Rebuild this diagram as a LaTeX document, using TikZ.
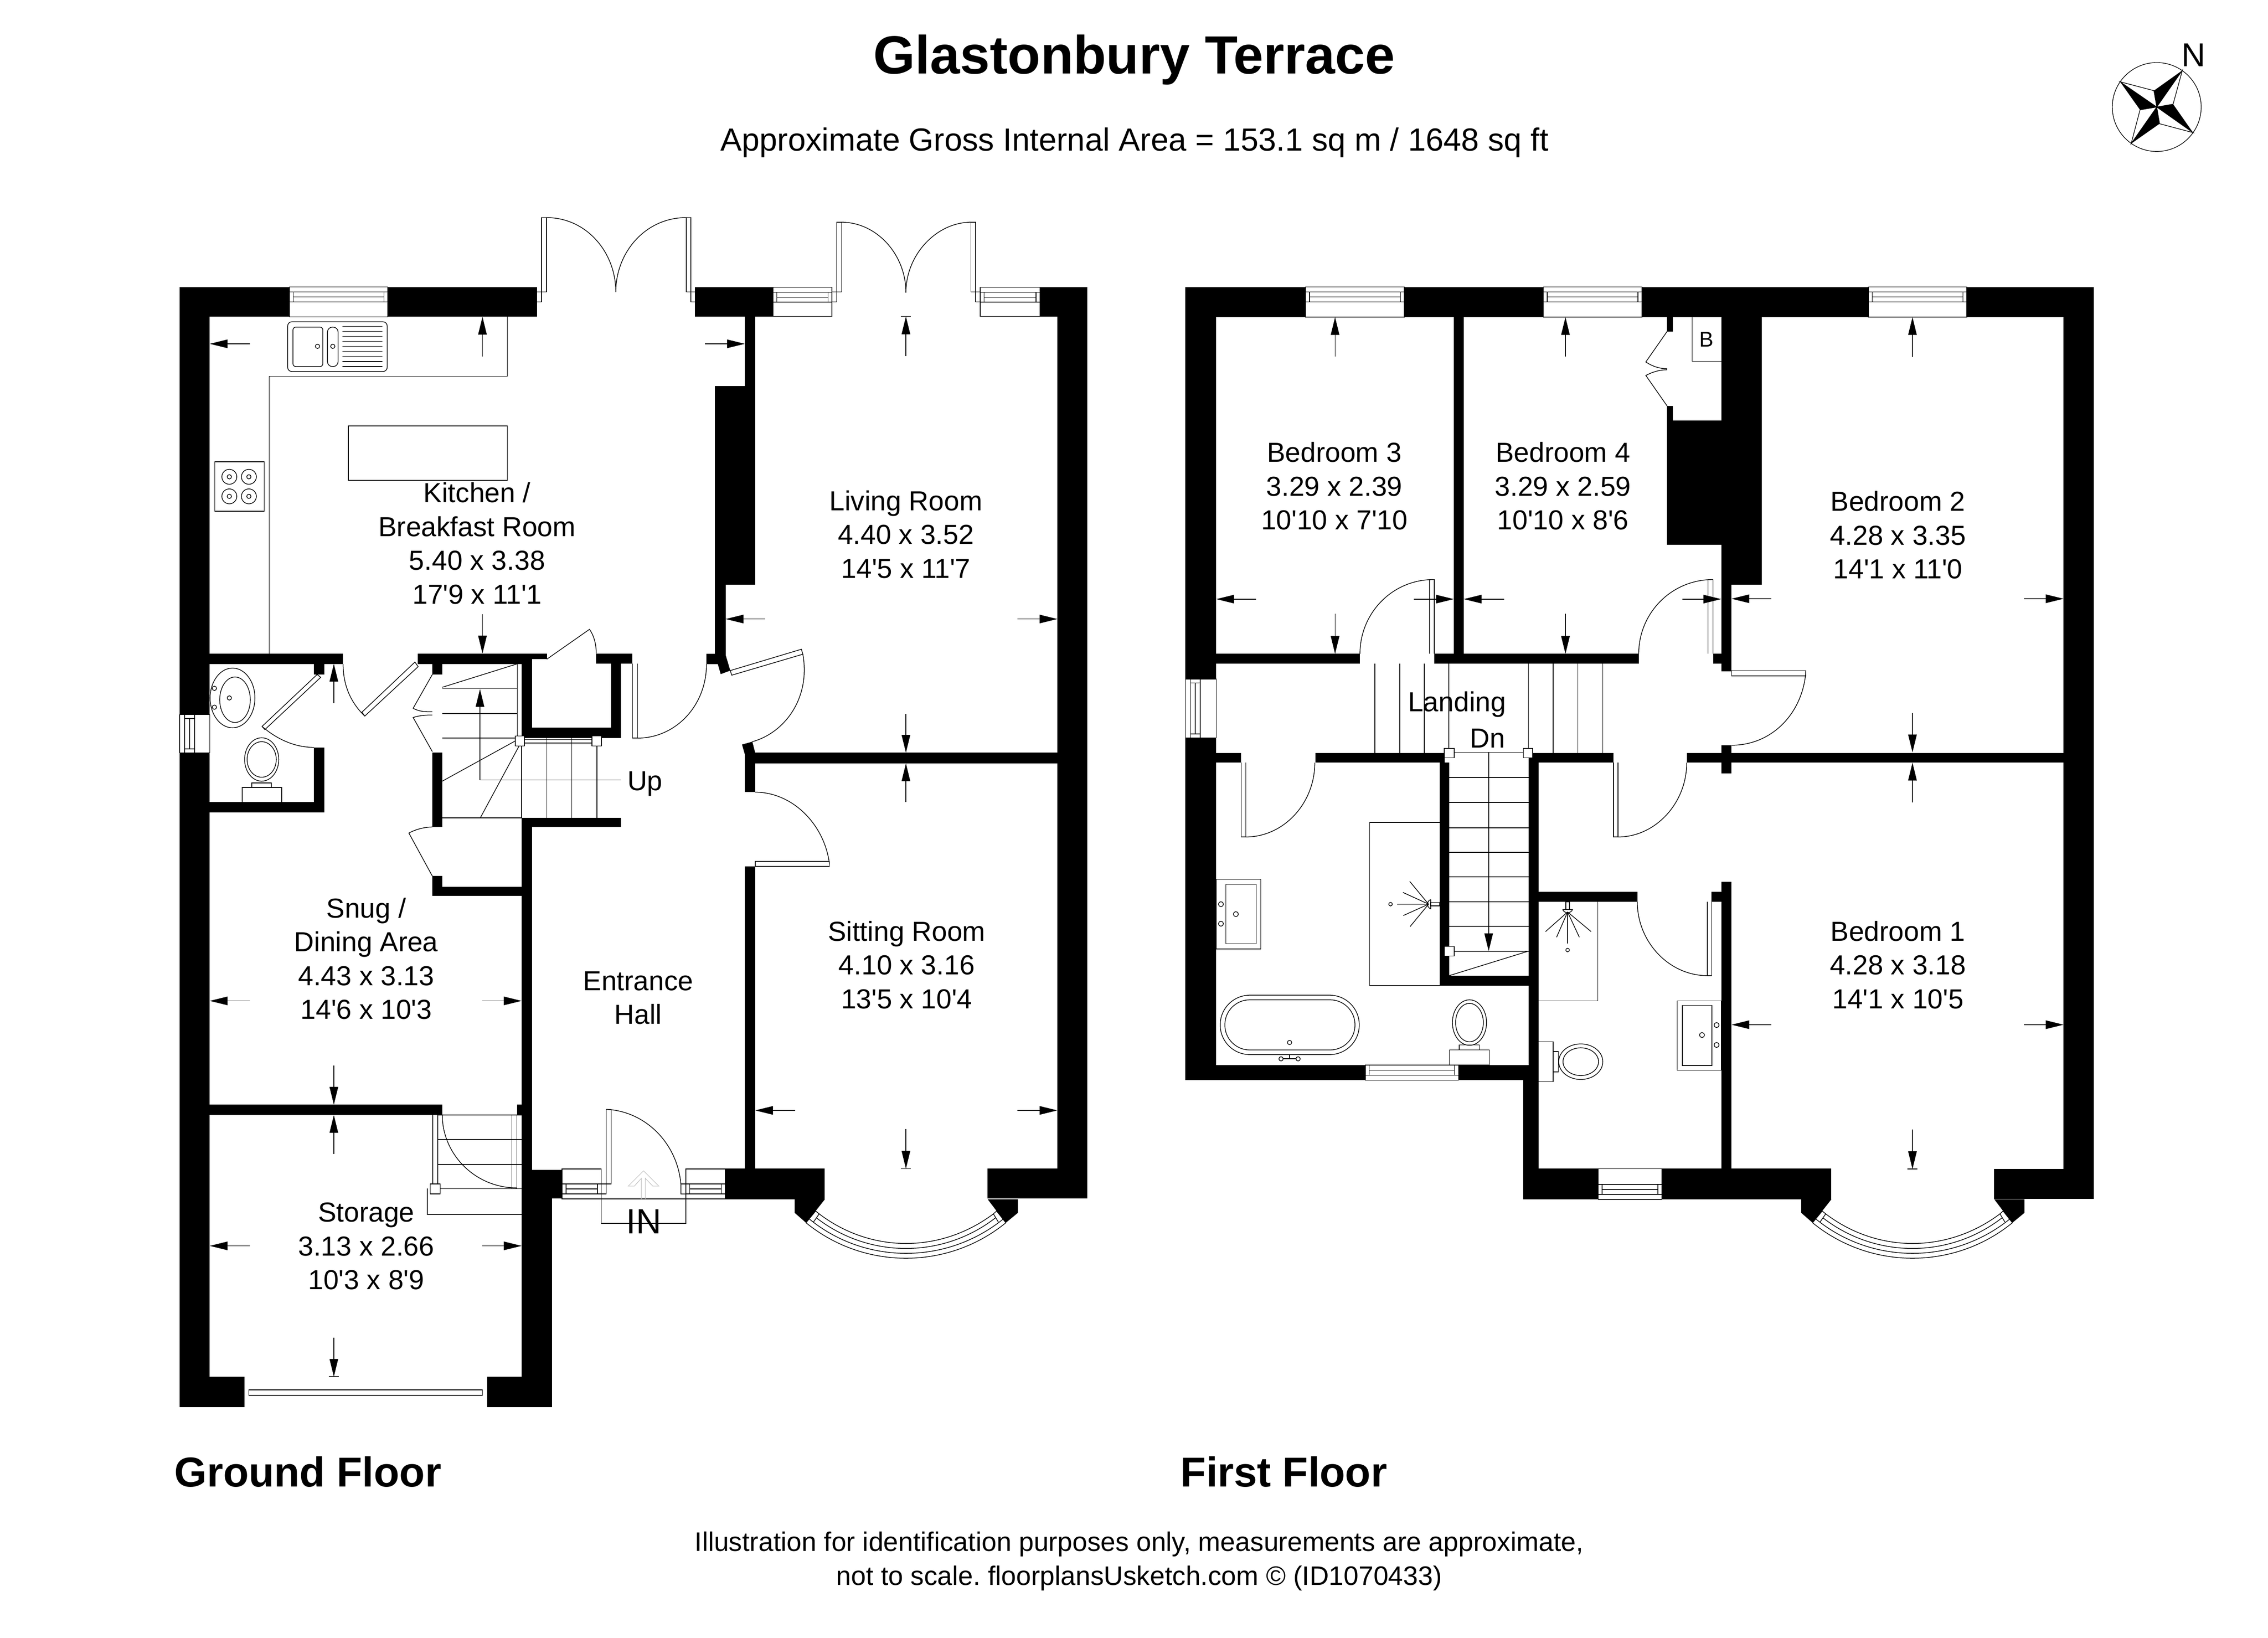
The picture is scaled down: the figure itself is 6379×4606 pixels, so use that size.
\documentclass[tikz,border=0pt]{standalone}
\usepackage{fontspec}
\newfontfamily\planfont{Liberation Sans}
\usetikzlibrary{arrows.meta}
\tikzset{
	wall/.style     = {fill=black},
	fitting/.style  = {draw, line width=0.55pt},
	dimline/.style  = {draw, line width=0.55pt, -{Stealth[length=0.5cm,width=0.24cm,inset=0pt]}},
	room/.style     = {align=center, font=\planfont\fontsize{22}{27}\selectfont},
	floorname/.style = {font=\planfont\bfseries\fontsize{33.4}{40}\selectfont}
}
% window in a horizontal wall: x1, x2, outer edge, inner edge, side (+1 top, -1 bottom)
\newcommand{\winh}[5]{
	\draw[fitting, fill=white] (#1,#3) rectangle (#2,#4);
	\draw[fitting] (#1,#3+14*#5) -- (#2,#3+14*#5);
	\draw[fitting] (#1,#3+42*#5) -- (#2,#3+42*#5);
	\draw[fitting] (#1+11,#3+28*#5) -- (#2-11,#3+28*#5);
	\draw[fitting] (#1+11,#3+14*#5) -- (#1+11,#3+42*#5);
	\draw[fitting] (#2-11,#3+14*#5) -- (#2-11,#3+42*#5);
}
% same in a vertical wall: y1, y2, outer edge, inner edge
\newcommand{\winv}[4]{
	\draw[fitting, fill=white] (#3,#1) rectangle (#4,#2);
	\draw[fitting] (#3+14,#1) -- (#3+14,#2);
	\draw[fitting] (#3+42,#1) -- (#3+42,#2);
	\draw[fitting] (#3+28,#1+11) -- (#3+28,#2-11);
	\draw[fitting] (#3+14,#1+11) -- (#3+42,#1+11);
	\draw[fitting] (#3+14,#2-11) -- (#3+42,#2-11);
}
% bay window round centre x
\newcommand{\baywin}[1]{
	\fill[wall] (#1-313,3373) -- (#1-228,3373) -- (#1-254,3406) -- (#1-281,3439) -- (#1-313,3411) -- cycle;
	\fill[wall] (#1+315,3373) -- (#1+230,3373) -- (#1+255,3406) -- (#1+281,3439) -- (#1+315,3411) -- cycle;
	\draw[fitting] (#1-281,3439) .. controls (#1-118,3572) and (#1+118,3572) .. (#1+281,3439);
	\draw[fitting] (#1-271,3429) .. controls (#1-114,3557) and (#1+114,3557) .. (#1+273,3429);
	\draw[fitting] (#1-252,3425) .. controls (#1-104,3540) and (#1+104,3540) .. (#1+252,3425);
	\draw[fitting] (#1-244,3414) .. controls (#1-98,3525) and (#1+98,3525) .. (#1+246,3414);
	\draw[fitting] (#1-281,3439) -- (#1-254,3406) -- (#1-244,3414) -- (#1-260,3437);
	\draw[fitting] (#1+281,3439) -- (#1+255,3406) -- (#1+246,3414) -- (#1+260,3437);
}

\begin{document}
\frenchspacing
\begin{tikzpicture}[x=0.01cm, y=-0.01cm, >=latex]
	\useasboundingbox (0,0) rectangle (6379,4606);
	\fill[white] (0,0) rectangle (6379,4606);

	% ground floor walls
	\foreach \xa/\ya/\xb/\yb in {505/807/1510/891, 505/807/590/3957, 1955/807/2174/891, 2925/808/3058/890,
		2974/808/3058/3370, 2095/891/2124/1086, 2011/1086/2124/1644, 2011/1644/2041/1868,
		590/1838/965/1868, 883/1868/912/1897, 1175/1838/1497/1868, 1497/1838/1538/1854,
		1216/1868/1244/1897, 1467/1868/1497/2076, 1467/2046/1747/2076, 1718/1838/1747/2050,
		1677/1838/1779/1867, 883/2102/912/2285, 590/2256/912/2285, 1216/2117/1244/2326,
		1216/2464/1244/2520, 1216/2494/1497/2520, 1467/2300/1747/2326, 1467/2300/1497/3371,
		505/3107/1244/3136, 1454/3107/1497/3136, 1497/3290/1581/3371, 1467/3371/1552/3957,
		505/3872/688/3957, 1370/3872/1552/3957, 2040/3287/2320/3373, 2778/3287/3058/3370,
		2095/2117/2124/2228, 2124/2117/2974/2147, 2095/2437/2124/3287}
		\fill[wall] (\xa,\ya) rectangle (\xb,\yb);
	\fill[wall] (1987,1839) -- (2040,1839) -- (2054,1886) -- (2027,1896) -- (2019,1868) -- (1987,1868) -- cycle;
	\fill[wall] (2087,2094) -- (2116,2086) -- (2124,2117) -- (2095,2122) -- cycle;
	\baywin{2548}

	% first floor walls
	\foreach \xa/\ya/\xb/\yb in {3334/807/5889/892, 3334/807/3421/3038, 5804/807/5889/3372, 4089/892/4117/1839,
		3334/1839/3825/1866, 4034/1839/4609/1866, 4818/1839/4870/1866, 4841/1866/4870/1888,
		4841/892/4955/1644, 4689/1183/4955/1532, 4841/1644/4870/1839, 4689/892/4705/932,
		4689/1142/4705/1183, 3334/2118/3491/2145, 3700/2118/4063/2145, 4299/2118/4538/2145,
		4744/2118/5804/2145, 4841/2096/4870/2175, 4049/2145/4076/2772, 4299/2145/4327/3038,
		4049/2744/4327/2772, 3334/2995/4327/3038, 4284/3038/4327/3373, 4284/3287/5150/3373,
		5608/3288/5889/3372, 4299/2508/4605/2536, 4814/2508/4870/2536, 4841/2480/4870/3287}
		\fill[wall] (\xa,\ya) rectangle (\xb,\yb);
	\baywin{5379}

	% windows
	\winh{814}{1091}{807}{891}{1}
	\winh{2174}{2340}{808}{890}{1}
	\winh{2757}{2925}{808}{890}{1}
	\winh{1581}{1691}{3372}{3288}{-1}
	\winh{1929}{2040}{3372}{3288}{-1}
	\winv{2010}{2117}{505}{590}
	\winh{3672}{3950}{807}{892}{1}
	\winh{4341}{4618}{807}{892}{1}
	\winh{5255}{5532}{807}{892}{1}
	\winv{1910}{2075}{3334}{3421}
	\winh{3840}{4102}{3038}{2995}{-1}
	\winh{4495}{4674}{3373}{3287}{-1}

	% ground floor doors
	\draw[fitting] (1510,821) -- (1537,821) -- (1537,612) -- (1523,612) -- (1523,849) -- (1510,849);
	\draw[fitting] (1955,821) -- (1930,821) -- (1930,612) -- (1943,612) -- (1943,849) -- (1955,849);
	\draw[fitting] (1537,612) .. controls (1650,612) and (1732,710) .. (1732,821);
	\draw[fitting] (1930,612) .. controls (1815,612) and (1732,710) .. (1732,821);
	\draw[fitting] (2340,821) -- (2367,821) -- (2367,625) -- (2353,625) -- (2353,849) -- (2340,849);
	\draw[fitting] (2757,821) -- (2731,821) -- (2731,625) -- (2744,625) -- (2744,849) -- (2757,849);
	\draw[fitting] (2367,625) .. controls (2465,625) and (2548,715) .. (2548,823);
	\draw[fitting] (2731,625) .. controls (2635,625) and (2548,715) .. (2548,823);
	\draw[fitting] (1538,1854) -- (1658,1770) .. controls (1672,1790) and (1677,1815) .. (1677,1838);
	\draw[fitting] (1779,1867) -- (1779,2076) -- (1793,2076) -- (1793,1867);
	\draw[fitting] (1793,2076) .. controls (1900,2076) and (1987,1985) .. (1987,1868);
	\draw[fitting] (965,1868) .. controls (965,1925) and (985,1975) .. (1026,2014);
	\draw[fitting] (1026,2014) -- (1176,1875) -- (1167,1862) -- (1018,2003) -- cycle;
	\draw[fitting] (892,1897) -- (737,2043) -- (745,2052) -- (902,1905) -- cycle;
	\draw[fitting] (737,2043) .. controls (780,2080) and (830,2102) .. (883,2102);
	\draw[fitting] (1216,1897) -- (1162,1992) .. controls (1180,2002) and (1198,2002) .. (1216,2002);
	\draw[fitting] (1216,2114) -- (1162,2018) .. controls (1180,2012) and (1198,2011) .. (1216,2011);
	\draw[fitting] (1216,2326) .. controls (1195,2326) and (1170,2332) .. (1150,2343) -- (1216,2464);
	\draw[fitting] (2054,1886) -- (2254,1826) -- (2258,1840) -- (2058,1899) -- cycle;
	\draw[fitting] (2258,1840) .. controls (2280,1960) and (2210,2060) .. (2116,2086);
	\draw[fitting] (2124,2228) .. controls (2230,2228) and (2320,2320) .. (2333,2431);
	\draw[fitting] (2124,2423) rectangle (2333,2437);
	\draw[fitting] (1691,3330) -- (1719,3330) -- (1719,3120) -- (1705,3120) -- (1705,3358) -- (1677,3358);
	\draw[fitting] (1705,3120) .. controls (1815,3125) and (1905,3215) .. (1915,3330) -- (1915,3358) -- (1943,3358);
	\draw[fitting] (1915,3330) -- (1943,3330);
	\draw[fitting] (1691,3288) -- (1691,3441) -- (1929,3441) -- (1929,3288);
	\draw[fitting] (1691,3372) -- (1929,3372);
	\draw[draw=black!25, line width=0.4pt] (1804,3372) -- (1804,3314) -- (1784,3336) -- (1767,3336) -- (1810,3293)
		-- (1853,3336) -- (1836,3336) -- (1815,3314) -- (1815,3372);
	\draw[fitting] (700,3909) rectangle (1357,3924);

	% kitchen and cloakroom fittings
	\draw[fitting] (757,1838) -- (757,1058) -- (1427,1058) -- (1427,891);
	\draw[fitting] (980,1198) rectangle (1427,1351);
	\draw[fitting, rounded corners=0.12cm] (809,905) rectangle (1089,1045);
	\draw[fitting, rounded corners=0.08cm] (824,920) rectangle (908,1031);
	\draw[fitting, rounded corners=0.14cm] (921,920) rectangle (951,1031);
	\draw[fitting] (893,974) circle[radius=6] (936,974) circle[radius=6];
	\foreach \y in {918,932,946,960,974,988,1002,1017,1031}
		\draw[fitting] (963,\y) -- (1076,\y);
	\draw[fitting] (604,1299) rectangle (743,1438);
	\foreach \x in {645,700}
		\foreach \y in {1341,1396}
			\draw[fitting] (\x,\y) circle[radius=21] (\x,\y) circle[radius=6];
	\draw[fitting] (654,1963) ellipse[x radius=63, y radius=84];
	\draw[fitting] (661,1968) ellipse[x radius=43, y radius=64];
	\draw[fitting] (645,1963) circle[radius=6] (603,1936) circle[radius=6] (603,1989) circle[radius=6];
	\draw[fitting] (681,2215) rectangle (792,2256);
	\draw[fitting] (708,2202) rectangle (763,2215);
	\draw[fitting] (736,2136) ellipse[x radius=48, y radius=61];
	\draw[fitting] (736,2136) ellipse[x radius=41, y radius=50];

	% ground floor stairs
	\draw[fitting] (1455,1868) -- (1455,2076);
	\foreach \y in {1936,2007,2076}
		\draw[fitting] (1244,\y) -- (1455,\y);
	\draw[fitting] (1244,1933) -- (1455,1867);
	\draw[fitting] (1244,2197) -- (1449,2084);
	\draw[fitting] (1351,2300) -- (1460,2098);
	\draw[fitting] (1244,2300) -- (1467,2300);
	\foreach \x in {1467,1538,1608,1679}
		\draw[fitting] (\x,2076) -- (\x,2300);
	\draw[fitting] (1475,2080) -- (1665,2080) (1475,2090) -- (1665,2090);
	\draw[fitting, fill=white] (1449,2070) rectangle (1475,2098);
	\draw[fitting, fill=white] (1665,2070) rectangle (1692,2098);
	\draw[dimline] (1747,2194) -- (1350,2194) -- (1350,1938);
	\foreach \y in {3136,3205,3275,3343}
		\draw[fitting] (1231,\y) -- (1467,\y);
	\draw[fitting] (1217,3136) -- (1217,3334) (1231,3136) -- (1231,3334);
	\draw[fitting] (1440,3136) -- (1440,3343) (1454,3136) -- (1454,3343);
	\draw[fitting] (1244,3136) .. controls (1244,3245) and (1335,3341) .. (1454,3341);
	\draw[fitting] (1202,3343) -- (1202,3415) -- (1467,3415);
	\draw[fitting, fill=white] (1210,3330) rectangle (1238,3358);

	% first floor doors
	\draw[fitting] (3825,1839) .. controls (3825,1725) and (3915,1630) .. (4032,1630);
	\draw[fitting] (4021,1839) -- (4021,1630) -- (4034,1630) -- (4034,1839);
	\draw[fitting] (4609,1839) .. controls (4609,1725) and (4700,1630) .. (4818,1630);
	\draw[fitting] (4804,1839) -- (4804,1630) -- (4818,1630) -- (4818,1839);
	\draw[fitting] (4689,932) -- (4629,1018) .. controls (4650,1032) and (4670,1037) .. (4689,1037);
	\draw[fitting] (4689,1142) -- (4629,1056) .. controls (4650,1045) and (4670,1040) .. (4689,1040);
	\draw[fitting] (4759,892) -- (4759,1016) -- (4841,1016);
	\draw[fitting] (4870,1886) rectangle (5079,1901);
	\draw[fitting] (5079,1890) .. controls (5070,2005) and (4985,2096) .. (4870,2096);
	\draw[fitting] (3491,2145) -- (3491,2354) -- (3504,2354) -- (3504,2145);
	\draw[fitting] (3504,2354) .. controls (3610,2354) and (3698,2260) .. (3698,2145);
	\draw[fitting] (4538,2145) -- (4538,2354) -- (4551,2354) -- (4551,2145);
	\draw[fitting] (4551,2354) .. controls (4655,2354) and (4744,2260) .. (4744,2145);
	\draw[fitting] (4802,2536) -- (4802,2744) -- (4814,2744) -- (4814,2536);
	\draw[fitting] (4605,2536) .. controls (4605,2650) and (4695,2744) .. (4802,2744);

	% first floor stairs
	\foreach \x in {3867,3937,4006,4075,4299,4368,4438,4508}
		\draw[fitting] (\x,1866) -- (\x,2118);
	\foreach \y in {2116,2187,2257,2328,2397,2466,2536,2605,2675}
		\draw[fitting] (4076,\y) -- (4299,\y);
	\draw[dimline] (4187,2116) -- (4187,2675);
	\draw[fitting] (4076,2744) -- (4299,2675);
	\draw[fitting, fill=white] (4062,2105) rectangle (4090,2131);
	\draw[fitting, fill=white] (4285,2105) rectangle (4311,2131);
	\draw[fitting, fill=white] (4062,2662) rectangle (4090,2689);

	% bathroom
	\draw[fitting] (3852,2772) -- (3852,2313) -- (4049,2313);
	\draw[fitting] (3852,2772) -- (4049,2772);
	\draw[fitting] (3911,2543) circle[radius=5];
	\foreach \xx/\yy in {3965/2479, 3946/2510, 3929/2543, 3947/2575, 3966/2606}
		\draw[fitting] (\xx,\yy) -- (4018,2543);
	\draw[fitting] (4024,2530) -- (4024,2556) .. controls (4012,2552) and (4012,2534) .. (4024,2530);
	\draw[fitting] (4024,2538) rectangle (4049,2548);
	\draw[fitting] (3421,2473) rectangle (3546,2669);
	\draw[fitting] (3448,2487) rectangle (3533,2654);
	\draw[fitting] (3434,2543) circle[radius=7] (3434,2598) circle[radius=7] (3476,2571) circle[radius=7];
	\draw[fitting, rounded corners=0.83cm] (3432,2799) rectangle (3823,2966);
	\draw[fitting, rounded corners=0.7cm] (3445,2812) rectangle (3811,2953);
	\draw[fitting] (3627,2932) circle[radius=6];
	\draw[fitting] (3603,2978) circle[radius=6] (3651,2978) circle[radius=6];
	\draw[fitting] (3609,2978) -- (3645,2978) (3627,2966) -- (3627,2978);
	\draw[fitting] (4077,2953) rectangle (4189,2995);
	\draw[fitting] (4104,2939) rectangle (4161,2953);
	\draw[fitting] (4133,2876) ellipse[x radius=48, y radius=64];
	\draw[fitting] (4133,2876) ellipse[x radius=39, y radius=54];

	% en suite
	\draw[fitting] (4327,2815) -- (4494,2815) -- (4494,2536);
	\draw[fitting] (4409,2672) circle[radius=5];
	\foreach \xx/\yy in {4409/2653, 4378/2636, 4347/2620, 4442/2636, 4475/2620}
		\draw[fitting] (\xx,\yy) -- (4409,2565);
	\draw[fitting] (4395,2558) -- (4423,2558) .. controls (4418,2570) and (4400,2570) .. (4395,2558);
	\draw[fitting] (4404,2536) rectangle (4414,2558);
	\draw[fitting] (4327,2930) rectangle (4368,3042);
	\draw[fitting] (4368,2957) rectangle (4383,3015);
	\draw[fitting] (4446,2986) ellipse[x radius=62, y radius=50];
	\draw[fitting] (4446,2986) ellipse[x radius=50, y radius=39];
	\draw[fitting] (4717,2815) rectangle (4841,3010);
	\draw[fitting] (4732,2828) rectangle (4815,2997);
	\draw[fitting] (4787,2911) circle[radius=7] (4828,2883) circle[radius=7] (4828,2939) circle[radius=7];

	% dimension arrows
	\foreach \xa/\ya/\xb/\yb in {703/967/590/967, 1357/1003/1357/891, 1983/967/2095/967, 1357/1727/1357/1838,
		939/1977/939/1867, 703/2815/590/2815, 1356/2815/1467/2815, 939/2997/939/3107,
		939/3246/939/3136, 703/3504/590/3504, 1356/3504/1467/3504, 939/3762/939/3872,
		2548/1001/2548/890, 2152/1741/2041/1741, 2862/1741/2974/1741, 2548/2008/2548/2117,
		2548/2256/2548/2147, 2237/3123/2124/3123, 2862/3123/2974/3123, 2548/3176/2548/3287,
		3755/1003/3755/892, 3533/1685/3421/1685, 3977/1685/4089/1685, 3755/1726/3755/1839,
		4403/1003/4403/892, 4230/1685/4117/1685, 4732/1685/4841/1685, 4403/1726/4403/1839,
		5379/1004/5379/892, 4982/1684/4870/1684, 5693/1684/5804/1684, 5379/2006/5379/2116,
		5379/2257/5379/2145, 4982/2882/4870/2882, 5693/2882/5804/2882, 5379/3177/5379/3288}
		\draw[dimline] (\xa,\ya) -- (\xb,\yb);
	\foreach \x/\y in {939/3872, 2548/3287, 2548/890, 5379/3288}
		\draw[fitting] (\x-14,\y) -- (\x+14,\y);

	% compass
	\draw[line width=0.5pt] (6066,301) circle[radius=125];
	\fill (6066,301) -- (6058,255) -- (6138,198) -- cycle;
	\fill (6066,301) -- (6112,293) -- (6168,373) -- cycle;
	\fill (6066,301) -- (6074,348) -- (5994,404) -- cycle;
	\fill (6066,301) -- (6019,309) -- (5963,230) -- cycle;
	\draw[line width=0.5pt] (6066,301) -- (6138,198) -- (6112,293) -- (6066,301);
	\draw[line width=0.5pt] (6066,301) -- (6168,373) -- (6074,348) -- (6066,301);
	\draw[line width=0.5pt] (6066,301) -- (5994,404) -- (6019,309) -- (6066,301);
	\draw[line width=0.5pt] (6066,301) -- (5963,230) -- (6058,255) -- (6066,301);
	\node[font=\planfont\fontsize{26.5}{30}\selectfont] (northMark) at (6170,155) {N};

	% texts
	\node[font=\planfont\bfseries\fontsize{43}{50}\selectfont] (titleText) at (3190,168) {Glastonbury Terrace};
	\node[font=\planfont\fontsize{25.6}{30}\selectfont] (areaText) at (3191,401) {Approximate Gross Internal Area = 153.1 sq m / 1648 sq ft};
	\node[floorname] (groundName) at (866,4140) {Ground Floor};
	\node[floorname] (firstName) at (3611,4140) {First Floor};
	\node[align=center, font=\planfont\fontsize{21.4}{27}\selectfont] (footerText) at (3204,4391) {Illustration for identification purposes only, measurements are approximate,\\not to scale. floorplansUsketch.com \textcopyright\ (ID1070433)};

	\node[room] (kitchenRoom) at (1342,1528) {Kitchen /\\Breakfast Room\\5.40 x 3.38\\17'9 x 11'1};
	\node[room] (snugRoom) at (1030,2696) {Snug /\\Dining Area\\4.43 x 3.13\\14'6 x 10'3};
	\node[room] (hallRoom) at (1795,2807) {Entrance\\Hall};
	\node[room] (storageRoom) at (1030,3505) {Storage\\3.13 x 2.66\\10'3 x 8'9};
	\node[room] (livingRoom) at (2548,1503) {Living Room\\4.40 x 3.52\\14'5 x 11'7};
	\node[room] (sittingRoom) at (2550,2714) {Sitting Room\\4.10 x 3.16\\13'5 x 10'4};
	\node[room] (upMark) at (1814,2205) {Up};
	\node[font=\planfont\fontsize{28}{32}\selectfont] (inMark) at (1811,3435) {IN};
	\node[room] (bedThree) at (3753,1367) {Bedroom 3\\3.29 x 2.39\\10'10 x 7'10};
	\node[room] (bedFour) at (4396,1367) {Bedroom 4\\3.29 x 2.59\\10'10 x 8'6};
	\node[room] (bedTwo) at (5338,1505) {Bedroom 2\\4.28 x 3.35\\14'1 x 11'0};
	\node[room] (bedOne) at (5338,2714) {Bedroom 1\\4.28 x 3.18\\14'1 x 10'5};
	\node[room] (landingRoom) at (4098,1981) {Landing};
	\node[room] (dnMark) at (4184,2077) {Dn};
	\node[font=\planfont\fontsize{17}{20}\selectfont] (boilerMark) at (4800,955) {B};
\end{tikzpicture}
\end{document}
